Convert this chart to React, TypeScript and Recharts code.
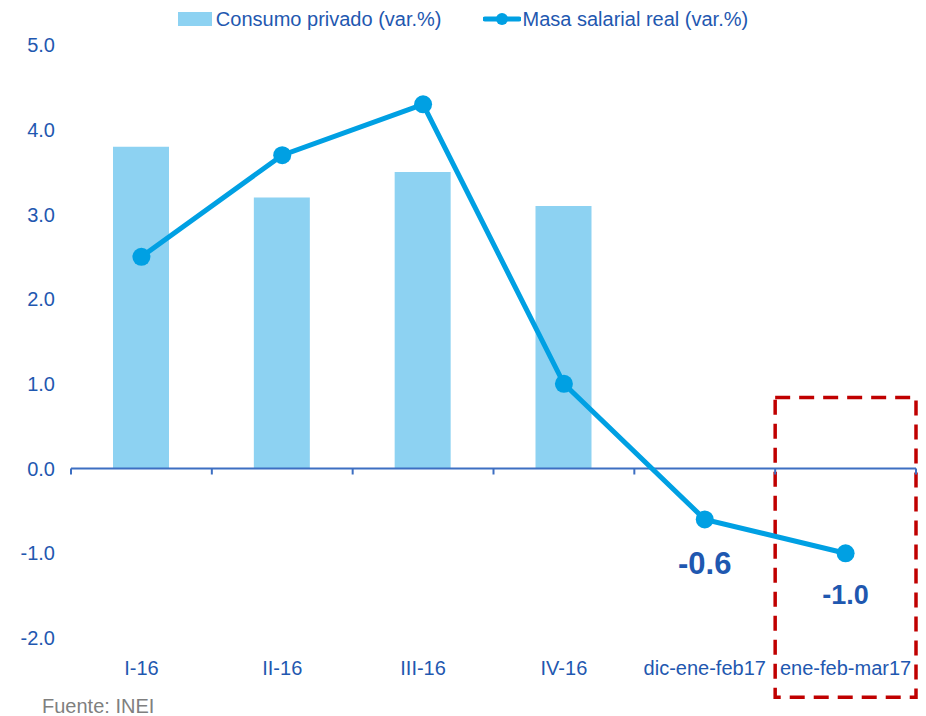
import React from 'react'
import {
  Bar,
  ComposedChart,
  Legend,
  Line,
  ReferenceArea,
  ReferenceLine,
  XAxis,
  YAxis,
} from 'recharts'

// Trimestres y periodos móviles
const periods = ['I-16', 'II-16', 'III-16', 'IV-16', 'dic-ene-feb17', 'ene-feb-mar17']
// Consumo privado (var.%) — sólo trimestres del 2016
const consumo = [3.8, 3.2, 3.5, 3.1, null, null]
// Masa salarial real (var.%)
const masaSalarial = [2.5, 3.7, 4.3, 1.0, -0.6, -1.0]
const yTicks = [-2, -1, 0, 1, 2, 3, 4, 5]
// últimos periodos, resaltados con cifra
const labeledFrom = 4

const data = periods.map((p, i) => ({
  periodo: p,
  slot: i + 0.5,
  consumo: consumo[i],
  masa: masaSalarial[i],
}))

// bordes entre categorías (0..n) para las marcas del eje
const edges = Array.from({ length: periods.length + 1 }, (_, i) => i)

const FONT = '"Liberation Sans", Arial, sans-serif'
const TEXT_BLUE = '#1F58B0'
const BAR_BLUE = '#8DD2F2'
const LINE_BLUE = '#00A0E3'
const AXIS_BLUE = '#3D6FC2'
const BOX_RED = '#C00000'

const renderLegend = () => (
  <div
    style={{
      display: 'flex',
      justifyContent: 'center',
      alignItems: 'center',
      fontFamily: FONT,
      fontSize: 20,
      lineHeight: '20px',
      color: TEXT_BLUE,
    }}
  >
    <span style={{ display: 'inline-block', width: 34, height: 14, background: BAR_BLUE }} />
    <span style={{ marginLeft: 4 }}>Consumo privado (var.%)</span>
    <svg width={38} height={14} style={{ marginLeft: 41 }}>
      <line x1={2} y1={7} x2={36} y2={7} stroke={LINE_BLUE} strokeWidth={5} strokeLinecap="round" />
      <circle cx={19} cy={7} r={6} fill={LINE_BLUE} />
    </svg>
    <span style={{ marginLeft: 2 }}>Masa salarial real (var.%)</span>
  </div>
)

const renderValueLabel = (props: any) => {
  const { x, y, value, index } = props
  if (index < labeledFrom) return null
  const big = index === labeledFrom
  return (
    <text
      x={x}
      y={y + (big ? 55 : 51)}
      textAnchor="middle"
      fontFamily={FONT}
      fontWeight="bold"
      fontSize={big ? 31 : 27}
      fill={TEXT_BLUE}
    >
      {Number(value).toFixed(1)}
    </text>
  )
}

export default function App() {
  return (
    <div style={{ position: 'absolute', left: 0, top: 0, width: 926, height: 716 }}>
      <ComposedChart
        width={926}
        height={716}
        data={data}
        margin={{ top: 45, right: 10, bottom: 48, left: 0 }}
        barSize={56}
      >
        <XAxis
          dataKey="periodo"
          interval={0}
          axisLine={false}
          tickLine={false}
          tickSize={0}
          tickMargin={23}
          tick={{ fill: TEXT_BLUE, fontSize: 20, fontFamily: FONT }}
        />
        {/* eje numérico oculto para las marcas entre categorías */}
        <XAxis
          xAxisId="edge"
          dataKey="slot"
          type="number"
          domain={[0, periods.length]}
          allowDataOverflow
          hide
        />
        <YAxis
          width={71}
          domain={[-2, 5]}
          ticks={yTicks}
          interval={0}
          axisLine={false}
          tickLine={false}
          tickSize={0}
          tickMargin={16}
          tickFormatter={(v: number) => v.toFixed(1)}
          tick={{ fill: TEXT_BLUE, fontSize: 20, fontFamily: FONT }}
        />
        <Legend
          verticalAlign="middle"
          content={renderLegend}
          wrapperStyle={{ top: 9, left: 0, width: 926 }}
        />
        <ReferenceLine y={0} stroke={AXIS_BLUE} strokeWidth={2} />
        {edges.map((e) => (
          <ReferenceLine
            key={e}
            xAxisId="edge"
            segment={[{ x: e, y: 0 }, { x: e, y: -0.07 }]}
            stroke={AXIS_BLUE}
            strokeWidth={2}
            ifOverflow="visible"
          />
        ))}
        <Bar dataKey="consumo" fill={BAR_BLUE} isAnimationActive={false} />
        <Line
          dataKey="masa"
          stroke={LINE_BLUE}
          strokeWidth={5}
          dot={{ r: 9, fill: LINE_BLUE, stroke: 'none' }}
          activeDot={false}
          label={renderValueLabel}
          isAnimationActive={false}
        />
        <ReferenceArea
          x1="ene-feb-mar17"
          x2="ene-feb-mar17"
          y1={0.84}
          y2={-2.7}
          ifOverflow="visible"
          fill="none"
          stroke={BOX_RED}
          strokeWidth={3.5}
          strokeDasharray="15 9"
        />
      </ComposedChart>
      <div
        style={{
          position: 'absolute',
          left: 42,
          top: 696,
          fontFamily: FONT,
          fontSize: 20,
          lineHeight: '20px',
          color: '#7F7F7F',
        }}
      >
        Fuente: INEI
      </div>
    </div>
  )
}
